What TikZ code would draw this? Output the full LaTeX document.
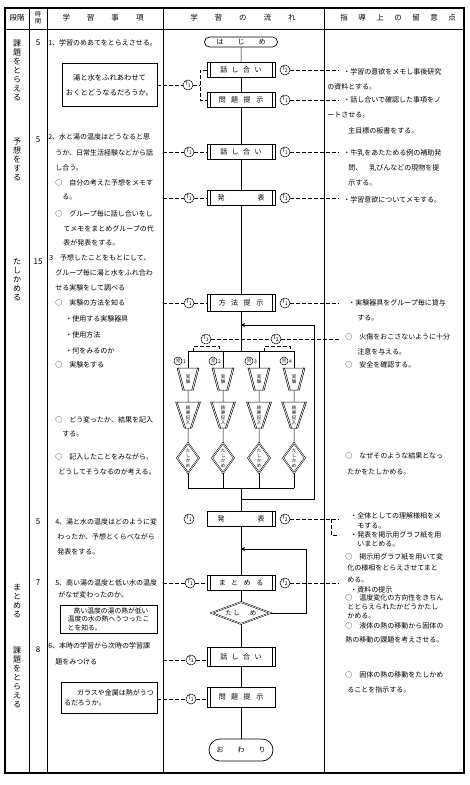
\documentclass[tikz,border=0pt]{standalone}
\usepackage{fontspec}
\setmainfont{Noto Sans CJK JP}
\usepackage{xcolor}
\usepackage{tikz}
\usetikzlibrary{shapes, arrows, calc}
\XeTeXlinebreaklocale "ja"
\XeTeXlinebreakskip=0pt plus 2pt
\newcommand{\jl}[2]{\makebox[#1pt][s]{#2}}
\newcommand{\hgap}{\hspace{17pt}}

\begin{document}
\begin{tikzpicture}[x=1pt,y=-1pt,>=stealth',line width=0.5pt,
      text node/.style={anchor=west,inner sep=0pt,font=\fontsize{7}{7}\selectfont},
      stage node/.style={align=center,inner sep=0pt,font=\fontsize{8}{9}\selectfont},
      proc node/.style={rectangle,draw,line width=0.7pt,minimum width=68pt,minimum height=15pt,
        inner sep=0pt,font=\fontsize{7}{7}\selectfont},
      bars/.style={path picture={
        \draw[line width=0.7pt] ([xshift=3pt]path picture bounding box.north west) -- ([xshift=3pt]path picture bounding box.south west);
        \draw[line width=0.7pt] ([xshift=-3pt]path picture bounding box.north east) -- ([xshift=-3pt]path picture bounding box.south east);}},
      bar left/.style={path picture={
        \draw[line width=0.7pt] ([xshift=3pt]path picture bounding box.north west) -- ([xshift=3pt]path picture bounding box.south west);}},
      bar right/.style={path picture={
        \draw[line width=0.7pt] ([xshift=-3pt]path picture bounding box.north east) -- ([xshift=-3pt]path picture bounding box.south east);}},
      term node/.style={rounded rectangle,draw,line width=0.7pt,inner sep=0pt,font=\fontsize{7}{7}\selectfont},
      memo box/.style={rectangle,draw,line width=0.7pt,inner sep=0pt},
      tee node/.style={circle,draw,minimum size=10pt,inner sep=0pt,font=\fontsize{5}{5}\selectfont},
      kid node/.style={circle,draw,minimum size=8pt,inner sep=0pt,font=\fontsize{4.5}{4.5}\selectfont},
      exp node/.style={trapezium,shape border rotate=180,trapezium angle=75,trapezium stretches=true,draw,
        minimum width=22pt,minimum height=22pt,inner sep=0pt,align=center,font=\fontsize{4.5}{5}\selectfont},
      chk node/.style={diamond,draw,double,double distance=0.6pt,aspect=0.7,minimum width=22pt,minimum height=30pt,
        inner sep=0pt,align=center,font=\fontsize{4.5}{5}\selectfont},
      tee line/.style={dashed,dash pattern=on 3.5pt off 2.5pt}]

    \useasboundingbox (0,0) rectangle (470,785);
    \draw[line width=1.2pt] (5,8) rectangle (464,773);
    \draw (5,29) -- (464,29);
    \foreach \x in {29,47,163,324} \draw (\x,8) -- (\x,773);
    \coordinate (koumoku) at (163,0);
    \coordinate (ryuui) at (339,0);

    \node[font=\fontsize{7.5}{7.5}\selectfont] (hdan) at (17,18) {段階};
    \node[align=center,font=\fontsize{6}{7}\selectfont] (hji) at (38,18) {時\\間};
    \node[font=\fontsize{7.5}{7.5}\selectfont] (hkou) at (103,18) {学\hgap 習\hgap 事\hgap 項};
    \node[font=\fontsize{7.5}{7.5}\selectfont] (hnag) at (243,18) {学\hgap 習\hgap の\hgap 流\hgap れ};
    \node[font=\fontsize{7.5}{7.5}\selectfont] (hryu) at (398,18)
        {指\hspace{10.5pt}導\hspace{10.5pt}上\hspace{10.5pt}の\hspace{10.5pt}留\hspace{10.5pt}意\hspace{10.5pt}点};

    \node[stage node] (s1) at (17,70) {課\\題\\を\\と\\ら\\え\\る};
    \node[stage node] (s2) at (17,160) {予\\想\\を\\す\\る};
    \node[stage node] (s3) at (17,279) {た\\し\\か\\め\\る};
    \node[stage node] (s4) at (17,601) {ま\\と\\め\\る};
    \node[stage node] (s5) at (17,677) {課\\題\\を\\と\\ら\\え\\る};

    \foreach \y/\n in {43/5,140/5,262/15,522/5,583/7,650/8}
        \node[font=\fontsize{8}{8}\selectfont] (time\y) at (38,\y) {\n};

    \foreach \x/\y/\w/\txt in {48/43/110/{1、学習のめあてをとらえさせる。},
        48/137/112/{2、水と湯の温度はどうなると思}, 55/153/105/{うか、日常生活経験などから話},
        55/183/102/{○　自分の考えた予想をメモす}, 55/214/103/{○　グループ毎に話し合いをし},
        63/229/95/{てメモをまとめグループの代}, 49/258/109/{3　予想したことをもとにして、},
        55/273/103/{グループ毎に湯と水をふれ合わ}, 55/420/104/{○　どう変ったか、結果を記入},
        55/457/97/{○　記入したことをみながら、}, 58/472/101/{どうしてそうなるのか考える。},
        55/522/104/{4、湯と水の温度はどのように変}, 57/537/102/{わったか、予想とくらべながら},
        55/583/107/{5、高い湯の温度と低い水の温度}, 48/646/111/{6、本時の学習から次時の学習課}}
        \node[text node] (a\y) at (\x,\y) {\jl{\w}{\txt}};
    \foreach \x/\y/\txt in {55/168/{し合う。}, 62/197/{る。}, 63/243/{表が発表をする。},
        55/288/{せる実験をして調べる}, 55/303/{○　実験の方法を知る}, 65/319/{・使用する実験器具},
        65/335/{・使用方法}, 65/351/{・何をみるのか}, 55/365/{○　実験をする}, 62/434/{する。},
        57/552/{発表をする。}, 58/595/{がなぜ変わったのか。}, 55/662/{題をみつける}}
        \node[text node] (a\y) at (\x,\y) {\txt};

    \foreach \x/\y/\w/\txt in {343/72/115/{・学習の意欲をメモし事後研究}, 343/100/115/{・話し合いで確認した事項をノ},
        343/153/115/{・牛乳をあたためる例の補助発}, 348/168/110/{問、　乳びんなどの現物を提},
        343/200/108/{・学習意欲についてメモする。}, 348/303/103/{・実験器具をグループ毎に貸与},
        345/337/113/{○　火傷をおこさないように十分}, 345/456/103/{○　なぜそのような結果となっ},
        350/516/97/{・全体としての理解様相をメ}, 350/535/97/{・発表を掲示用グラフ紙を用},
        345/557/103/{○　掲示用グラフ紙を用いて変}, 347/568/101/{化の様相をとらえさせてまと},
        345/598/103/{○　温度変化の方向性をきちん}, 347/607/101/{ととらえられたかどうかたし},
        345/626/103/{○　液体の熱の移動から固体の}, 345/640/106/{熱の移動の課題を考えさせる。},
        345/675/103/{○　固体の熱の移動をたしかめ}}
        \node[text node] (b\y) at (\x,\y) {\jl{\w}{\txt}};
    \foreach \x/\y/\txt in {327/87/{の資料とする。}, 327/115/{ートさせる。}, 348/131/{主目標の板書をする。},
        348/183/{示する。}, 357/318/{する。}, 357/352/{注意を与える。}, 345/365/{○　安全を確認する。},
        347/472/{たかをたしかめる。}, 357/526/{モする。}, 357/544/{いまとめる。}, 347/580/{める。},
        350/590/{・資料の提示}, 347/616/{かめる。}, 347/690/{ることを指示する。}}
        \node[text node] (b\y) at (\x,\y) {\txt};

    \node[memo box,minimum width=95pt,minimum height=43pt,align=center,font=\fontsize{7.3}{15}\selectfont]
        (boxA) at (109.5,85) {湯と水をふれあわせて\\おくとどうなるだろうか。};
    \node[memo box,minimum width=97pt,minimum height=28pt,align=left,font=\fontsize{6.8}{8.5}\selectfont]
        (boxB) at (108.5,619) {\hspace{6pt}高い温度の湯の熱が低い\\温度の水の熱へうつったこ\\とを知る。};
    \node[memo box,minimum width=96pt,minimum height=31pt,align=left,font=\fontsize{7}{10}\selectfont]
        (boxC) at (109,697.5) {\hspace{13pt}ガラスや金属は熱がうつ\\るだろうか。};

    \node[term node,minimum width=73pt,minimum height=10pt] (start) at (241,42) {は\hspace{14pt}じ\hspace{14pt}め};
    \node[proc node,bars] (talk1) at (241,70) {話\hspace{4.5pt}し\hspace{4.5pt}合\hspace{4.5pt}い};
    \node[proc node,bars] (prob1) at (241,100) {問\hspace{5.5pt}題\hspace{5.5pt}提\hspace{5.5pt}示};
    \node[proc node,bars] (talk2) at (241,152) {話\hspace{4.5pt}し\hspace{4.5pt}合\hspace{4.5pt}い};
    \node[proc node,bars] (pres1) at (241,198) {発\hspace{33pt}表};
    \node[proc node,bars,minimum height=17pt] (meth) at (241,303) {方\hspace{5.5pt}法\hspace{5.5pt}提\hspace{5.5pt}示};
    \node[proc node,bar right] (pres2) at (241,519) {発\hspace{33pt}表};
    \node[proc node,bars] (sum) at (241,583) {ま\hspace{5.5pt}と\hspace{5.5pt}め\hspace{5.5pt}る};
    \node[chk node,aspect=2.7,minimum width=59pt,minimum height=22pt,font=\fontsize{6.5}{6.5}\selectfont]
        (chk) at (241,613) {た\,し\hspace{10pt}め};
    \node[proc node,bars,minimum height=19pt] (talk3) at (241,656.5) {話\hspace{4.5pt}し\hspace{4.5pt}合\hspace{4.5pt}い};
    \node[proc node,bar left,minimum height=20pt] (prob3) at (241,697) {問\hspace{5.5pt}題\hspace{5.5pt}提\hspace{5.5pt}示};
    \node[term node,minimum width=64pt,minimum height=22pt] (end) at (241,750) {お\hspace{14pt}わ\hspace{14pt}り};

    \coordinate (fork) at (241,351);
    \coordinate (join) at (241,488);
    \coordinate (back1) at (241,325);
    \coordinate (out1) at (241,499);
    \coordinate (back2) at (241,549);

    \path (start) edge (talk1)
          (talk1) edge (prob1)
          (prob1) edge (talk2)
          (talk2) edge (pres1)
          (pres1) edge (meth)
          (meth) edge (fork)
          (join) edge (pres2)
          (pres2) edge (sum)
          (sum) edge (chk)
          (chk) edge (talk3)
          (talk3) edge (prob3)
          (prob3) edge (end);

    \foreach \i/\x in {1/188,2/223,3/259,4/294} {
        \coordinate (top\i) at (\x,351);
        \coordinate (bot\i) at (\x,488);
        \node[kid node] (kid\i) at (\x-10,361) {児};
        \node[inner sep=0pt,font=\fontsize{5}{5}\selectfont] (num\i) at (\x-3.5,362) {\i};
        \node[exp node] (exp\i) at (\x,379) {実\\験};
        \node[exp node,minimum width=25pt,minimum height=26pt] (rec\i) at (\x,415) {結\\果\\記\\入};
        \node[chk node] (chk\i) at (\x,458) {た\\し\\か\\め};
        \foreach \n in {exp,rec} {
            \draw ($(\n\i.bottom left corner)!1.8pt!(\n\i.bottom right corner)$) -- ($(\n\i.top left corner)!1.8pt!(\n\i.top right corner)$);
            \draw ($(\n\i.bottom right corner)!1.8pt!(\n\i.bottom left corner)$) -- ($(\n\i.top right corner)!1.8pt!(\n\i.top left corner)$);
        }
        \path (top\i) edge (exp\i)
              (exp\i) edge (rec\i)
              (rec\i) edge (chk\i)
              (chk\i) edge (bot\i);
    }
    \draw (top1) -- (top4);
    \draw (bot1) -- (bot4);
    \draw[->] (out1) -- ++(73,0) |- (back1);
    \draw[->] (chk.east) -- ++(35,0) |- (back2);

    \node[tee node] (tA) at (188,85) {T\textsubscript{1}};
    \node[tee node] (tB) at (285,70) {T\textsubscript{2}};
    \node[tee node] (tC) at (285,100) {T\textsubscript{1}};
    \node[tee node] (tD) at (189,152) {T\textsubscript{1}};
    \node[tee node] (tE) at (285,152) {T\textsubscript{1}};
    \node[tee node] (tF) at (189,198) {T\textsubscript{1}};
    \node[tee node] (tG) at (285,198) {T\textsubscript{1}};
    \node[tee node] (tH) at (189,303) {T\textsubscript{1}};
    \node[tee node] (tI) at (285,303) {T\textsubscript{1}};
    \node[tee node] (tJ) at (206,339) {T\textsubscript{1}};
    \node[tee node] (tK) at (276,339) {T\textsubscript{2}};
    \node[tee node] (tL) at (189,519) {T\textsubscript{1}};
    \node[tee node] (tM) at (285,519) {T\textsubscript{2}};
    \node[tee node] (tN) at (190,583) {T\textsubscript{1}};
    \node[tee node] (tO) at (285,583) {T\textsubscript{2}};
    \node[tee node] (tP) at (191,660) {T\textsubscript{1}};
    \node[tee node] (tQ) at (191,699) {T\textsubscript{1}};

    \coordinate (brA) at (200,85);
    \coordinate (brM) at (331,535);
    \draw[tee line] (boxA) -- (tA) -- (brA);
    \draw[tee line] (talk1.west) -| (brA) |- (prob1.west);
    \foreach \t/\b in {tD/talk2,tF/pres1,tH/meth,tN/sum,tP/talk3}
        \draw[tee line] (\t -| koumoku) -- (\t) -- (\t -| \b.west);
    \draw[tee line] (boxC.east |- tQ) -- (tQ) -- (tQ -| prob3.west);
    \foreach \t in {tB,tC,tE,tG,tI,tM,tO}
        \draw[tee line] (\t) -- (\t -| ryuui);
    \draw[tee line] (tJ) -- (tK) -- (tK -| ryuui);
    \draw[tee line] ($(top1)+(5,0)$) |- ($(tJ.south)+(0,2)$) -| ($(top2)+(-4,0)$);
    \draw[tee line] ($(top3)+(5,0)$) |- ($(tK.south)+(0,2)$) -| ($(top4)+(-4,0)$);
    \draw[tee line] (tM -| brM) |- (brM -| ryuui);
\end{tikzpicture}
\end{document}
